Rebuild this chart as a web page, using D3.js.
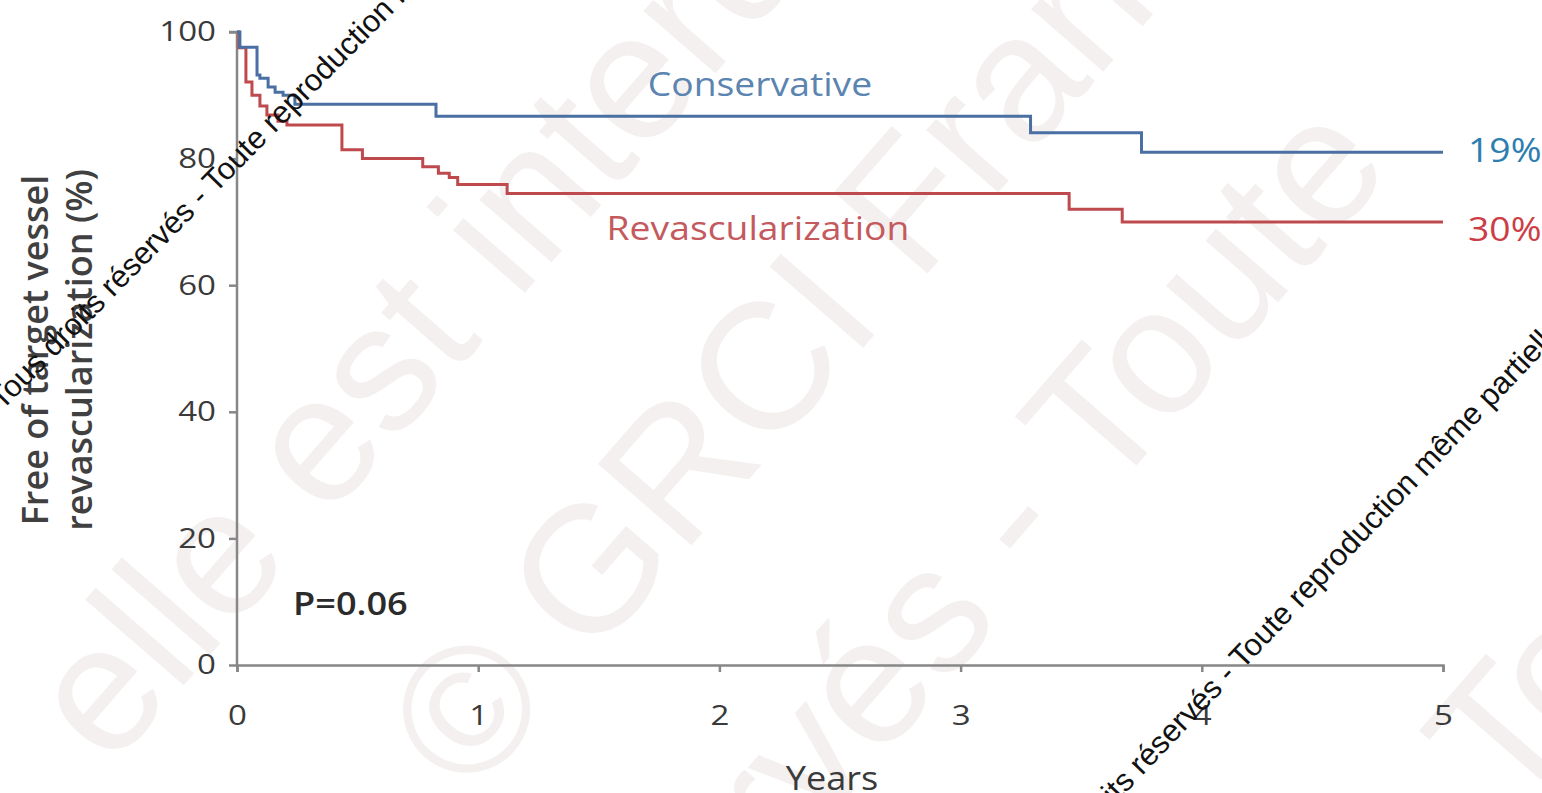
<!DOCTYPE html>
<html><head><meta charset="utf-8">
<script src="https://cdn.jsdelivr.net/npm/d3@7"></script>
<style>
html,body{margin:0;padding:0;background:#fff;overflow:hidden}
svg{display:block}
</style></head><body>
<svg id="chart" width="1542" height="793"></svg>
<script>
// ---- data ----
const xTicks = [0, 1, 2, 3, 4, 5];
const yTicks = [0, 20, 40, 60, 80, 100];
const seriesNames = ["Conservative", "Revascularization"];
const endLabels = ["19%", "30%"];
const conservativeTimes  = [0, 0.012, 0.083, 0.095, 0.129, 0.158, 0.191, 0.24, 0.825, 3.29, 3.75, 5];
const conservativeValues = [100, 97.6, 93.2, 92.7, 91.3, 90.5, 90.0, 88.6, 86.7, 84.1, 81.0, 81.0];
const revascTimes  = [0, 0.008, 0.037, 0.062, 0.095, 0.124, 0.17, 0.207, 0.435, 0.52, 0.77, 0.835, 0.88, 0.915, 1.12, 3.45, 3.67, 5];
const revascValues = [100, 97.5, 92.1, 90.0, 88.3, 86.9, 85.9, 85.3, 81.4, 80.0, 78.7, 77.7, 77.0, 75.9, 74.5, 72.0, 70.0, 70.0];
const pValueText = "P=0.06";
const xTitle = "Years";
const yTitleLines = ["Free of target vessel", "revascularization (%)"];
const watermarkSmall = "Tous droits réservés - Toute reproduction même partielle interdite";
const watermarkRows = ["elle est interdite", "© GRCI France", "réservés - Toute", "Toute"];

// ---- layout ----
const svg = d3.select("#chart");
const x = d3.scaleLinear().domain([0, 5]).range([237, 1443]);
const y = d3.scaleLinear().domain([0, 100]).range([665, 32]);
const FONT = "'Open Sans', sans-serif";

function stretch(sel, k) {
  sel.each(function () {
    const t = d3.select(this);
    const tx = +t.attr("x") || 0, ty = +t.attr("y") || 0;
    t.attr("transform", `translate(${tx},${ty}) scale(${k},1) translate(${-tx},${-ty})`);
  });
}

// faint big watermark
const bigWm = svg.append("g").attr("fill", "#f4f0f0")
  .style("font-family", "'Liberation Sans', Arial, sans-serif").style("font-size", "180px");
const bigPos = [[110, 770], [470, 800], [550, 1140], [1510, 815]];
watermarkRows.forEach((s, i) => {
  bigWm.append("text").attr("transform", `translate(${bigPos[i][0]},${bigPos[i][1]}) rotate(-49)`).text(s);
});

// axes
const axisColor = "#878787";
const gy = svg.append("g").attr("transform", `translate(${x(0)},0)`)
  .call(d3.axisLeft(y).tickValues(yTicks).tickSize(8).tickPadding(13).tickFormat(d3.format("d")));
const gx = svg.append("g").attr("transform", `translate(0,${y(0)})`)
  .call(d3.axisBottom(x).tickValues(xTicks).tickSize(7).tickPadding(33).tickFormat(d3.format("d")));
[gx, gy].forEach(g => {
  g.select(".domain").attr("stroke", axisColor).attr("stroke-width", 2.5);
  g.selectAll(".tick line").attr("stroke", axisColor).attr("stroke-width", 2.5);
  g.selectAll(".tick text").attr("fill", "#3a3a3a").style("font-family", FONT).style("font-size", "28px");
});
stretch(gy.selectAll(".tick text"), 1.18);
stretch(gx.selectAll(".tick text"), 1.18);
gy.select(".domain").attr("d", `M-8,${y(100)}H0V${y(0)}`);

// lines
const line = d3.line().x(d => x(d[0])).y(d => y(d[1])).curve(d3.curveStepAfter);
const consData = conservativeTimes.map((t, i) => [t, conservativeValues[i]]);
const revData = revascTimes.map((t, i) => [t, revascValues[i]]);
svg.append("path").datum(revData).attr("d", line).attr("fill", "none")
  .attr("stroke", "#bf4a4d").attr("stroke-width", 3);
svg.append("path").datum(consData).attr("d", line).attr("fill", "none")
  .attr("stroke", "#4a6fa3").attr("stroke-width", 3);

// labels
const lab = svg.append("g").style("font-family", FONT);
lab.append("text").attr("x", 760).attr("y", 96).attr("text-anchor", "middle")
  .attr("fill", "#5b84b0").style("font-size", "33px").text(seriesNames[0]);
lab.append("text").attr("x", 758).attr("y", 240).attr("text-anchor", "middle")
  .attr("fill", "#c45a5d").style("font-size", "33px").text(seriesNames[1]);
lab.append("text").attr("x", 1468).attr("y", 162).attr("fill", "#2d7db0")
  .style("font-size", "33px").text(endLabels[0]);
lab.append("text").attr("x", 1468).attr("y", 241).attr("fill", "#cc3d45")
  .style("font-size", "33px").text(endLabels[1]);
lab.append("text").attr("x", 293).attr("y", 615).attr("fill", "#2b2b2b")
  .style("font-size", "32px").style("font-weight", 600).text(pValueText);
lab.append("text").attr("x", 832).attr("y", 790).attr("text-anchor", "middle")
  .attr("fill", "#3a3a3a").style("font-size", "32px").style("font-weight", 500).text(xTitle);
stretch(lab.selectAll("text"), 1.13);

const yt = svg.append("g").style("font-family", FONT).style("font-size", "36px")
  .style("font-weight", 600).attr("fill", "#404040");
yTitleLines.forEach((s, i) => {
  yt.append("text").attr("transform", `translate(${48 + i * 44},350) rotate(-90)`)
    .attr("text-anchor", "middle").text(s);
});

// small black diagonal watermark
const smallWm = svg.append("g").attr("fill", "#111")
  .style("font-family", "'Liberation Sans', Arial, sans-serif").style("font-size", "31px");
smallWm.append("text").attr("transform", "translate(2,411) rotate(-45.5)").text(watermarkSmall);
smallWm.append("text").attr("transform", "translate(1033,891) rotate(-46.5)").text(watermarkSmall);
</script>
</body></html>
